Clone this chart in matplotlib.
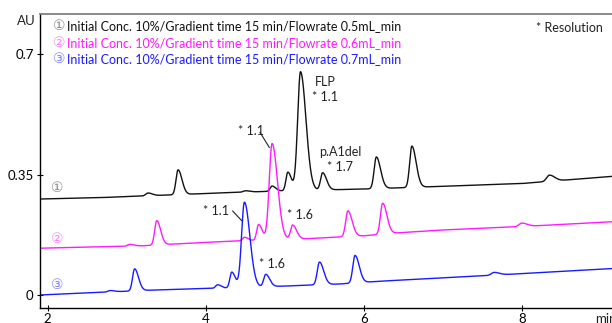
import numpy as np
import matplotlib
matplotlib.use("Agg")
import matplotlib.pyplot as plt

plt.rcParams['font.family'] = ['Lato', 'DejaVu Sans']

# ---- chromatogram data (retention time in min, absorbance in AU) ----
labels = [
    "Initial Conc. 10%/Gradient time 15 min/Flowrate 0.5mL_min",
    "Initial Conc. 10%/Gradient time 15 min/Flowrate 0.6mL_min",
    "Initial Conc. 10%/Gradient time 15 min/Flowrate 0.7mL_min",
]
marks = ["\u2460", "\u2461", "\u2462"]

# baseline drift knots for each run
base1_t = [1.90, 2.66, 4.00, 5.00, 6.00, 7.00, 8.00, 8.60, 9.15]
base1_v = [0.279, 0.283, 0.295, 0.303, 0.308, 0.316, 0.324, 0.335, 0.345]
base2_t = [1.90, 2.66, 3.20, 3.90, 4.40, 5.30, 6.00, 6.50, 7.00, 8.00, 9.15]
base2_v = [0.136, 0.140, 0.143, 0.152, 0.157, 0.164, 0.172, 0.182, 0.189, 0.199, 0.213]
base3_t = [1.90, 2.70, 3.00, 3.30, 4.00, 4.40, 5.00, 5.70, 6.20, 7.60, 9.15]
base3_v = [0.000, 0.008, 0.011, 0.014, 0.019, 0.021, 0.026, 0.032, 0.040, 0.057, 0.077]

# peak tables: retention time, height above baseline, width (sigma, min)
peaks1_t = [3.27, 3.65, 4.50, 4.84, 5.04, 5.20, 5.48, 6.16, 6.61, 8.35]
peaks1_h = [0.008, 0.072, 0.004, 0.015, 0.054, 0.345, 0.050, 0.092, 0.120, 0.018]
peaks1_w = [0.028, 0.026, 0.028, 0.024, 0.024, 0.036, 0.026, 0.028, 0.028, 0.035]

peaks2_t = [3.04, 3.38, 4.49, 4.67, 4.84, 5.10, 5.80, 6.24, 8.00]
peaks2_h = [0.005, 0.071, 0.010, 0.046, 0.280, 0.041, 0.075, 0.090, 0.010]
peaks2_w = [0.028, 0.026, 0.024, 0.024, 0.036, 0.026, 0.028, 0.028, 0.035]

peaks3_t = [2.79, 3.10, 4.15, 4.33, 4.49, 4.76, 5.44, 5.89, 7.65]
peaks3_h = [0.004, 0.064, 0.010, 0.046, 0.248, 0.036, 0.066, 0.080, 0.008]
peaks3_w = [0.028, 0.026, 0.024, 0.024, 0.036, 0.026, 0.028, 0.028, 0.035]

line_colors = ["#111111", "#ff1aff", "#1a1aff"]
mark_colors = ["#8c8c8c", "#ff80ff", "#8080ff"]
text_colors = ["#111111", "#ff1aff", "#1a1aff"]

TAIL = 1.9  # right-side width factor for tailing peaks


def trace(t, bt, bv, pt, ph, pw):
    y = np.interp(t, bt, bv)
    for c, h, s in zip(pt, ph, pw):
        sig = np.where(t < c, s, s * TAIL)
        y = y + h * np.exp(-0.5 * ((t - c) / sig) ** 2)
    return y


W, H = 612, 323
fig = plt.figure(figsize=(W / 100, H / 100), dpi=100)
ax = fig.add_axes([40 / W, 15 / H, 1 - 40 / W, 294 / H])

t = np.linspace(1.90, 9.15, 3000)
runs = [
    (base1_t, base1_v, peaks1_t, peaks1_h, peaks1_w),
    (base2_t, base2_v, peaks2_t, peaks2_h, peaks2_w),
    (base3_t, base3_v, peaks3_t, peaks3_h, peaks3_w),
]
for i, r in enumerate(runs):
    ax.plot(t, trace(t, *r), color=line_colors[i], lw=1.0)

fs = 9
ax.set_xlim(1.9025, 9.143)
ax.set_ylim(-0.0378, 0.8169)
ax.set_xticks([2, 4, 6, 8])
ax.set_xticklabels(["2", "4", "6", "8"])
ax.set_yticks([0, 0.35, 0.7])
ax.set_yticklabels(["0", "0.35", "0.7"])
ax.tick_params(direction='inout', length=5, width=0.8, labelsize=fs + 0.5, pad=2)
ax.tick_params(axis='x', pad=1)
ax.spines['right'].set_visible(False)
ax.spines['top'].set_color('#777777')
ax.spines['top'].set_linewidth(1.2)
for s in ('left', 'bottom'):
    ax.spines[s].set_linewidth(1.0)

# run markers at the left of each trace
mark_pos = [(2.118, 0.31), (2.118, 0.163), (2.118, 0.029)]
for (x, y), m, c in zip(mark_pos, marks, mark_colors):
    ax.text(x, y, m, color=c, fontsize=10, ha='center', va='center',
            family=['DejaVu Sans'])

# peak annotations
ann_color = "#222222"
ax.text(5.51, 0.620, "FLP", ha='center', va='center', fontsize=fs, color=ann_color)
ax.text(5.51, 0.575, "* 1.1", ha='center', va='center', fontsize=fs, color=ann_color)
ax.text(5.70, 0.4166, "p.A1del", ha='center', va='center', fontsize=fs, color=ann_color)
ax.text(5.70, 0.373, "* 1.7", ha='center', va='center', fontsize=fs, color=ann_color)
ax.text(4.57, 0.477, "* 1.1", ha='center', va='center', fontsize=fs, color=ann_color)
ax.plot([4.687, 4.805], [0.473, 0.429], color=ann_color, lw=0.8)
ax.text(5.19, 0.2326, "* 1.6", ha='center', va='center', fontsize=fs, color=ann_color)
ax.text(4.13, 0.245, "* 1.1", ha='center', va='center', fontsize=fs, color=ann_color)
ax.plot([4.342, 4.456], [0.244, 0.216], color=ann_color, lw=0.8)
ax.text(4.835, 0.090, "* 1.6", ha='center', va='center', fontsize=fs, color=ann_color)


def fx(x):
    return x / W


def fy(y):
    return 1 - y / H


# legend block
for i, yy in enumerate([26, 43, 59]):
    fig.text(fx(59), fy(yy), marks[i], color=mark_colors[i], fontsize=10,
             ha='center', va='center', family=['DejaVu Sans'])
    fig.text(fx(67), fy(yy), labels[i], color=text_colors[i], fontsize=fs,
             ha='left', va='center')

fig.text(fx(603), fy(28), "* Resolution", ha='right', va='center', fontsize=fs,
         color=ann_color)
fig.text(fx(26), fy(21), "AU", ha='center', va='center', fontsize=fs + 0.5,
         color=ann_color)
fig.text(fx(595), fy(319), "min", ha='left', va='center', fontsize=fs + 0.5,
         color=ann_color)

fig.savefig("out.png", dpi=100)
